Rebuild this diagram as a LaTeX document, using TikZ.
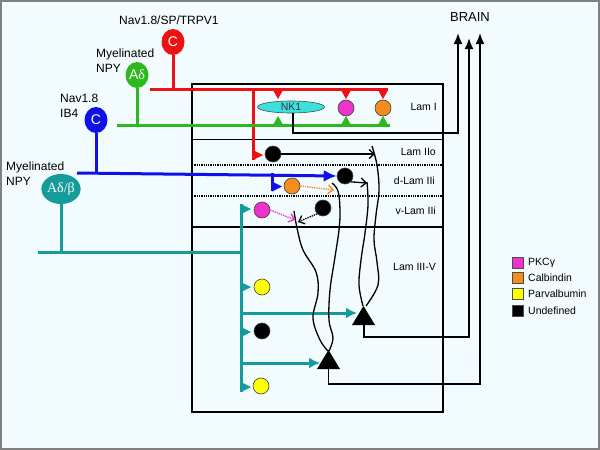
\documentclass[tikz,border=0pt]{standalone}
\usepackage{fontspec}
\setmainfont{Liberation Sans}
\newfontfamily\greekserif{Liberation Serif}
\usetikzlibrary{arrows.meta,shapes.geometric}
\definecolor{bg}{RGB}{242,251,253}
\definecolor{cred}{RGB}{238,17,17}
\definecolor{cgreen}{RGB}{45,185,30}
\definecolor{cblue}{RGB}{16,16,232}
\definecolor{cteal}{RGB}{22,155,155}
\definecolor{cmag}{RGB}{238,51,204}
\definecolor{corange}{RGB}{245,140,30}
\definecolor{cyellow}{RGB}{255,255,0}
\definecolor{cnk}{RGB}{60,225,220}
\tikzset{
  fib/.style={line width=3pt},
  soma/.style={ellipse, minimum width=23pt, minimum height=26pt, inner sep=0pt, text=white, font=\fontsize{14}{14}\selectfont},
  cell/.style={circle, minimum size=16pt, inner sep=0pt, draw=black!75, line width=0.6pt},
  lab/.style={anchor=west, align=left, font=\fontsize{12}{15}\selectfont, inner sep=0pt},
  lamlab/.style={anchor=east, font=\fontsize{10.5}{12}\selectfont, inner sep=0pt},
  leglab/.style={anchor=west, font=\fontsize{10.5}{12}\selectfont, inner sep=0pt},
  legsq/.style={minimum size=11pt, inner sep=0pt, draw=black!70, line width=0.6pt},
  dend/.style={line width=1.3pt, black},
  barb/.style={-{Straight Barb[length=5pt,width=9pt]}},
  proj/.style={line width=1.8pt, black},
  flag/.pic={\fill (0,-5) -- (10,0) -- (0,5) -- cycle;},
  tdown/.pic={\fill (-5,0) -- (5,0) -- (0,9) -- cycle;},
  tup/.pic={\fill (-5,0) -- (5,0) -- (0,-9) -- cycle;},
}
\begin{document}
\begin{tikzpicture}[x=1pt,y=-1pt]
\useasboundingbox (0,0) rectangle (600,450);
\fill[bg] (0,0) rectangle (600,450);
\draw[black!50, line width=2pt] (1,1) rectangle (599,449);

% laminae box
\draw[line width=1.4pt] (192,84) rectangle (443,412);
\draw[line width=1.4pt] (192,139.5) -- (443,139.5);
\draw[line width=1.3pt, densely dotted] (192,165) -- (443,165);
\draw[line width=1.3pt, densely dotted] (192,196) -- (443,196);
\draw[line width=1.4pt] (192,227) -- (443,227);
\node[lamlab] (l1) at (437,107) {Lam I};
\node[lamlab] (l2) at (436,152) {Lam IIo};
\node[lamlab] (l3) at (435,181) {d-Lam IIi};
\node[lamlab] (l4) at (436,211) {v-Lam IIi};
\node[lamlab] (l5) at (436,267) {Lam III-V};

% BRAIN
\node[font=\fontsize{13}{13}\selectfont] (brain) at (470,17) {BRAIN};
\coordinate (b1) at (458,33);
\coordinate (b2) at (469,38);
\coordinate (b3) at (480,33);

% afferent labels and somata
\node[lab] (t1) at (119,20) {Nav1.8/SP/TRPV1};
\node[soma, fill=cred] (sc1) at (173,42) {C};
\node[lab] (t2) at (96,61) {Myelinated\\NPY};
\node[soma, fill=cgreen] (sad) at (137,75) {A{\greekserif δ}};
\node[lab] (t3) at (60,106) {Nav1.8\\IB4};
\node[soma, fill=cblue] (sc2) at (96,120) {C};
\node[lab] (t4) at (6,174) {Myelinated\\NPY};
\node[soma, fill=cteal, minimum width=31pt, minimum height=30pt, font=\greekserif\fontsize{14}{14}\selectfont] (sab) at (61,189) {Aδ/β};

% Lam I cells
\node[ellipse, fill=cnk, draw=black!70, line width=0.6pt, minimum width=67pt, minimum height=12pt, inner sep=0pt, font=\fontsize{10.5}{10}\selectfont, text=black!80] (nk1) at (291,107) {NK1};
\node[cell, fill=cmag] (m1) at (346,108) {};
\node[cell, fill=corange] (o1) at (383,108) {};

% red fibre
\coordinate (r0) at (150,89);
\coordinate (r1) at (388,89);
\draw[cred, fib] (sc1.south) -- (sc1.south |- r0);
\draw[cred, fib] (r0) -- (r1);
\draw[cred, fib] (253,89) -- (253,160);
\pic[cred] at (253,155) {flag};
\foreach \x in {278,346,383} \pic[cred] at (\x,90) {tdown};

% green fibre
\coordinate (g0) at (117,125);
\coordinate (g1) at (390,125);
\draw[cgreen, fib] (sad.south) -- (sad.south |- g0);
\draw[cgreen, fib] (g0) -- (g1);
\foreach \x in {278,346,383} \pic[cgreen] at (\x,125) {tup};

% Lam II cells
\node[cell, fill=black] (k1) at (273,154) {};
\node[cell, fill=black] (k2) at (345,176) {};
\node[cell, fill=corange] (o2) at (292,186) {};
\node[cell, fill=cmag] (m2) at (262,210) {};
\node[cell, fill=black] (k3) at (323,208) {};

% blue fibre
\coordinate (u0) at (77,173);
\draw[cblue, fib] (sc2.south) -- (sc2.south |- u0);
\draw[cblue, fib, -{Latex[length=13pt,width=12pt]}] (u0) -- (k2.west);
\draw[cblue, fib] (272,173) -- (272,191);
\pic[cblue] at (272,186.5) {flag};

% teal fibre
\coordinate (e0) at (38,252);
\coordinate (e1) at (241,252);
\draw[cteal, fib] (sab.south) -- (sab.south |- e0);
\draw[cteal, fib] (e0) -- (e1);
\draw[cteal, fib] (241,204) -- (241,392);
\pic[cteal] at (241,209) {flag};
\pic[cteal] at (241,287) {flag};
\pic[cteal] at (241,332) {flag};
\pic[cteal] at (241,387) {flag};

% Lam III-V cells
\node[cell, fill=cyellow] (y1) at (262,287) {};
\node[cell, fill=black] (k4) at (262,331) {};
\node[cell, fill=cyellow] (y2) at (261,386) {};

% projection neurons
\coordinate (pa) at (363.5,306);
\coordinate (pb) at (328.5,350);
\fill (352,325) -- (pa) -- (375,325) -- cycle;
\fill (317,369) -- (pb) -- (340,369) -- cycle;
\coordinate (pab) at (364,325);
\coordinate (pbb) at (328.5,369);
\draw[cteal, fib, -{Latex[length=11pt,width=11pt]}] (241,313) -- (357,313);
\draw[cteal, fib, -{Latex[length=11pt,width=11pt]}] (241,363) -- (320,363);

% dendrites
\coordinate (da) at (372,146);
\coordinate (db) at (367,182);
\coordinate (dc) at (294,211);
\coordinate (dd) at (332,183);
\draw[dend] plot[smooth, tension=0.6] coordinates {(da) (377,165) (379,190) (376,215) (374,240) (377,262) (378,285) (366,306)};
\draw[dend] plot[smooth, tension=0.6] coordinates {(db) (368,205) (365,233) (361,260) (359,285) (363,306)};
\draw[dend] plot[smooth, tension=0.6] coordinates {(dc) (297,228) (303,250) (316,272) (318,293) (313,318) (320,340) (328,351)};
\draw[dend] plot[smooth, tension=0.6] coordinates {(dd) (338,191) (340,210) (339,230) (335,257) (330,290) (329,320) (333,338) (329,351)};

% local connections
\draw[dend, barb] (k1.east) -- (375,154);
\draw[dend, barb] (k2.south east) -- (367,183);
\draw[corange, line width=1.3pt, densely dotted, barb] (o2.east) -- (334,190);
\draw[cmag, line width=1.3pt, densely dotted, barb] (m2.east) -- (295,220);
\draw[black, line width=1.3pt, densely dotted, barb] (k3.south west) -- (298,222);

% projections to brain
\draw[proj, -{Latex[length=11pt,width=9pt]}] (nk1.south -| 293,0) -- (293,133) -- (458,133) -- (b1);
\draw[proj, -{Latex[length=11pt,width=9pt]}] (pab) -- (364,337) -- (469,337) -- (b2);
\draw[proj, -{Latex[length=11pt,width=9pt]}] (pbb) -- (328.5,384) -- (480,384) -- (b3);

% legend
\node[legsq, fill=cmag] (q1) at (517.5,262.5) {};
\node[legsq, fill=corange] (q2) at (517.5,278) {};
\node[legsq, fill=cyellow] (q3) at (517.5,294) {};
\node[legsq, fill=black] (q4) at (517.5,311) {};
\node[leglab] at (528,262.5) {PKCγ};
\node[leglab] at (528,278) {Calbindin};
\node[leglab] at (528,294) {Parvalbumin};
\node[leglab] at (528,311) {Undefined};
\end{tikzpicture}
\end{document}
